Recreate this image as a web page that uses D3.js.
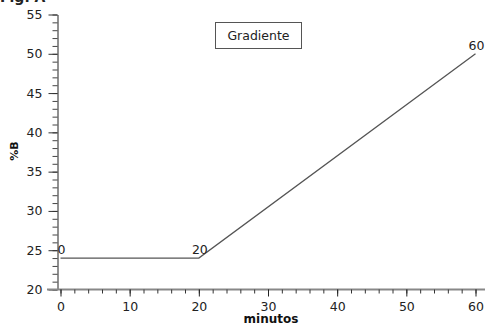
<!DOCTYPE html>
<html>
<head>
<meta charset="utf-8">
<script src="https://cdn.jsdelivr.net/npm/d3@7"></script>
<style>
  body { margin: 0; background: #fff; }
  svg { display: block; font-family: "DejaVu Sans", Verdana, sans-serif; }
</style>
</head>
<body>
<div id="chart"></div>
<script>
// gradient programme: time (min) vs %B
var minutes = [0, 20, 60];
var percentB = [24, 24, 50];
var pointLabels = ["0", "20", "60"];
var xTicks = [0, 10, 20, 30, 40, 50, 60];
var yTicks = [20, 25, 30, 35, 40, 45, 50, 55];
var legendLabel = "Gradiente";

var width = 485, height = 325;

var svg = d3.select("#chart").append("svg")
  .attr("width", width)
  .attr("height", height);

var x = d3.scaleLinear().domain([0, 60]).range([60.5, 475.5]);
var y = d3.scaleLinear().domain([20, 55]).range([289.5, 14.5]);

// cut off title at the very top
svg.append("text")
  .attr("x", 0)
  .attr("y", 2)
  .attr("font-size", 14)
  .attr("font-weight", "bold")
  .attr("fill", "#222")
  .text("Fig. A");

// y axis: minor ticks
svg.append("g")
  .attr("transform", "translate(57.5,0)")
  .call(d3.axisLeft(y).tickValues(d3.range(20, 56, 1)).tickSize(5).tickFormat(""))
  .call(function (g) {
    g.select(".domain").remove();
    g.selectAll("line").attr("stroke", "#444");
  });

// y axis: major ticks + labels
svg.append("g")
  .attr("transform", "translate(57.5,0)")
  .call(d3.axisLeft(y).tickValues(yTicks).tickSize(9).tickSizeOuter(0).tickPadding(6))
  .call(function (g) {
    g.select(".domain").attr("stroke", "#222");
    g.selectAll("line").attr("stroke", "#333");
    g.selectAll("text").attr("font-size", 12.5).attr("fill", "#222")
      .attr("font-family", "DejaVu Sans, sans-serif");
  });

// x axis line (starts at end of the y=20 tick)
svg.append("line")
  .attr("x1", 47).attr("x2", 485)
  .attr("y1", y(20)).attr("y2", y(20))
  .attr("stroke", "#888")
  .attr("stroke-width", 2);

// x axis: minor ticks
svg.append("g")
  .attr("transform", "translate(0," + y(20) + ")")
  .call(d3.axisBottom(x).tickValues(d3.range(0, 61, 2)).tickSize(4).tickFormat(""))
  .call(function (g) {
    g.select(".domain").remove();
    g.selectAll("line").attr("stroke", "#333");
  });

// x axis: major ticks + labels
svg.append("g")
  .attr("transform", "translate(0," + y(20) + ")")
  .call(d3.axisBottom(x).tickValues(xTicks).tickSize(7).tickPadding(6))
  .call(function (g) {
    g.select(".domain").remove();
    g.selectAll("line").attr("stroke", "#222");
    g.selectAll("text").attr("font-size", 12.5).attr("fill", "#222")
      .attr("font-family", "DejaVu Sans, sans-serif");
  });

// axis titles
svg.append("text")
  .attr("transform", "translate(18,151) rotate(-90)")
  .attr("text-anchor", "middle")
  .attr("font-size", 11)
  .attr("font-weight", "bold")
  .attr("fill", "#111")
  .text("%B");

svg.append("text")
  .attr("x", 271)
  .attr("y", 323)
  .attr("text-anchor", "middle")
  .attr("font-size", 12)
  .attr("font-weight", "bold")
  .attr("fill", "#111")
  .text("minutos");

// gradient line
var pts = minutes.map(function (m, i) { return [m, percentB[i]]; });
var line = d3.line()
  .x(function (d) { return x(d[0]); })
  .y(function (d) { return y(d[1]); });

svg.append("path")
  .datum(pts)
  .attr("d", line)
  .attr("fill", "none")
  .attr("stroke", "#555")
  .attr("stroke-width", 1.3);

svg.selectAll(".ptlabel")
  .data(pts)
  .enter().append("text")
  .attr("class", "ptlabel")
  .attr("x", function (d) { return x(d[0]) + 1; })
  .attr("y", function (d) { return y(d[1]) - 4; })
  .attr("text-anchor", "middle")
  .attr("font-size", 12.5)
  .attr("fill", "#222")
  .text(function (d, i) { return pointLabels[i]; });

// legend box
var legend = svg.append("g").attr("transform", "translate(215.5,22.5)");
legend.append("rect")
  .attr("width", 86)
  .attr("height", 26)
  .attr("fill", "#fff")
  .attr("stroke", "#555");
legend.append("text")
  .attr("x", 43)
  .attr("y", 17.5)
  .attr("text-anchor", "middle")
  .attr("font-size", 12.5)
  .attr("fill", "#222")
  .text(legendLabel);
</script>
</body>
</html>
